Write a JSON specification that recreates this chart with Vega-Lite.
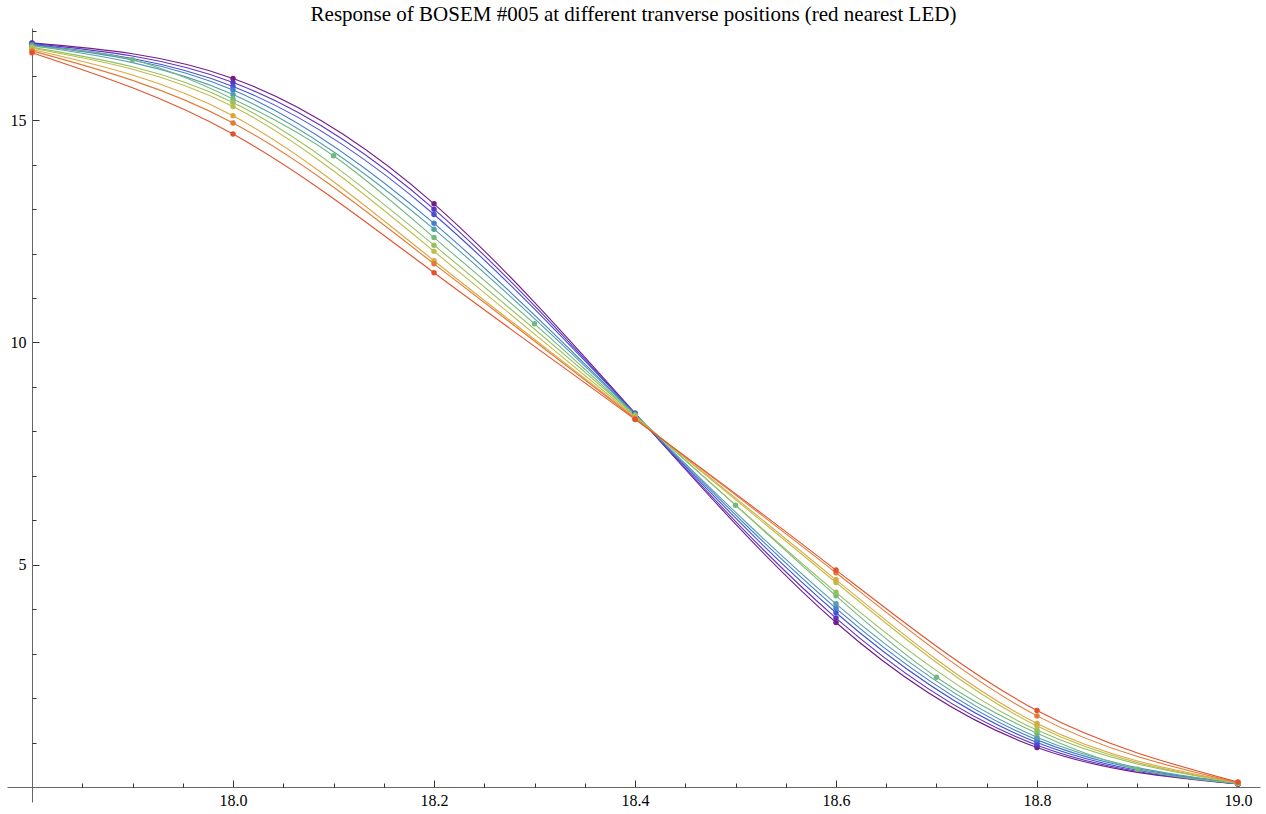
{
  "$schema": "https://vega.github.io/schema/vega-lite/v6.json",
  "autosize": {"type": "none"},
  "padding": {"left": 7, "top": 28, "right": 6, "bottom": 12},
  "width": 1253,
  "height": 774,
  "background": "white",
  "title": {"text": "Response of BOSEM #005 at different tranverse positions (red nearest LED)", "font": "Liberation Serif", "fontSize": 21, "fontWeight": "normal", "color": "black", "anchor": "middle", "frame": "group", "baseline": "bottom", "offset": 3, "dy": 21},
  "config": {
    "view": {"stroke": null},
    "axis": {"grid": false, "domainColor": "#666666", "tickColor": "#333333", "labelFont": "Liberation Serif", "labelFontSize": 16, "labelColor": "black", "title": null, "labelFlush": false, "labelOverlap": false}
  },
  "data": {"values": [
    {"s":10,"x":17.8,"v":16.74},{"s":10,"x":18.0,"v":15.94},{"s":10,"x":18.2,"v":13.12},{"s":10,"x":18.4,"v":8.41},{"s":10,"x":18.6,"v":3.70},{"s":10,"x":18.8,"v":0.89},{"s":10,"x":19.0,"v":0.07},
    {"s":9,"x":17.8,"v":16.73},{"s":9,"x":18.0,"v":15.85},{"s":9,"x":18.2,"v":13.00},{"s":9,"x":18.4,"v":8.40},{"s":9,"x":18.6,"v":3.80},{"s":9,"x":18.8,"v":0.94},{"s":9,"x":19.0,"v":0.07},
    {"s":8,"x":17.8,"v":16.71},{"s":8,"x":18.0,"v":15.76},{"s":8,"x":18.2,"v":12.88},{"s":8,"x":18.4,"v":8.40},{"s":8,"x":18.6,"v":3.92},{"s":8,"x":18.8,"v":1.00},{"s":8,"x":19.0,"v":0.07},
    {"s":7,"x":17.8,"v":16.70},{"s":7,"x":18.0,"v":15.68},{"s":7,"x":18.2,"v":12.68},{"s":7,"x":18.4,"v":8.39},{"s":7,"x":18.6,"v":4.02},{"s":7,"x":18.8,"v":1.06},{"s":7,"x":19.0,"v":0.08},
    {"s":6,"x":17.8,"v":16.68},{"s":6,"x":18.0,"v":15.58},{"s":6,"x":18.2,"v":12.55},{"s":6,"x":18.4,"v":8.38},{"s":6,"x":18.6,"v":4.12},{"s":6,"x":18.8,"v":1.12},{"s":6,"x":19.0,"v":0.08},
    {"s":5,"x":17.8,"v":16.66},{"s":5,"x":17.9,"v":16.36},{"s":5,"x":18.0,"v":15.48},{"s":5,"x":18.1,"v":14.20},{"s":5,"x":18.2,"v":12.36},{"s":5,"x":18.3,"v":10.42},{"s":5,"x":18.4,"v":8.37},{"s":5,"x":18.5,"v":6.34},{"s":5,"x":18.6,"v":4.30},{"s":5,"x":18.7,"v":2.47},{"s":5,"x":18.8,"v":1.21},{"s":5,"x":18.9,"v":0.40},{"s":5,"x":19.0,"v":0.08},
    {"s":4,"x":17.8,"v":16.64},{"s":4,"x":18.0,"v":15.40},{"s":4,"x":18.2,"v":12.19},{"s":4,"x":18.4,"v":8.35},{"s":4,"x":18.6,"v":4.38},{"s":4,"x":18.8,"v":1.28},{"s":4,"x":19.0,"v":0.09},
    {"s":3,"x":17.8,"v":16.62},{"s":3,"x":18.0,"v":15.31},{"s":3,"x":18.2,"v":12.05},{"s":3,"x":18.4,"v":8.33},{"s":3,"x":18.6,"v":4.60},{"s":3,"x":18.8,"v":1.37},{"s":3,"x":19.0,"v":0.09},
    {"s":2,"x":17.8,"v":16.59},{"s":2,"x":18.0,"v":15.10},{"s":2,"x":18.2,"v":11.84},{"s":2,"x":18.4,"v":8.31},{"s":2,"x":18.6,"v":4.66},{"s":2,"x":18.8,"v":1.43},{"s":2,"x":19.0,"v":0.10},
    {"s":1,"x":17.8,"v":16.56},{"s":1,"x":18.0,"v":14.94},{"s":1,"x":18.2,"v":11.77},{"s":1,"x":18.4,"v":8.29},{"s":1,"x":18.6,"v":4.82},{"s":1,"x":18.8,"v":1.60},{"s":1,"x":19.0,"v":0.10},
    {"s":0,"x":17.8,"v":16.52},{"s":0,"x":18.0,"v":14.69},{"s":0,"x":18.2,"v":11.57},{"s":0,"x":18.4,"v":8.27},{"s":0,"x":18.6,"v":4.88},{"s":0,"x":18.8,"v":1.72},{"s":0,"x":19.0,"v":0.11}
  ]},
  "layer": [
    {
      "mark": {"type": "line", "interpolate": "natural", "strokeWidth": 1.1},
      "encoding": {
        "x": {"field": "x", "type": "quantitative", "scale": {"domain": [17.7751, 19.0219], "nice": false, "zero": false},
              "axis": {"orient": "bottom", "offset": -15, "values": [18.0, 18.2, 18.4, 18.6, 18.8, 19.0], "format": ".1f", "tickSize": -7, "labelPadding": 12}},
        "y": {"field": "v", "type": "quantitative", "scale": {"domain": [-0.3375, 17.075], "nice": false, "zero": false},
              "axis": {"orient": "left", "offset": -25, "values": [5, 10, 15], "tickSize": -7, "labelPadding": 13}},
        "color": {"field": "s", "type": "nominal", "scale": {"domain": [0,1,2,3,4,5,6,7,8,9,10], "range": ["#E2522E","#E37A36","#DBA840","#BDBD4D","#94C160","#73B87F","#57A0A8","#4280CE","#4550D4","#5A36C0","#781B86"]}, "legend": null}
      }
    },
    {
      "mark": {"type": "circle", "size": 30, "opacity": 1},
      "encoding": {
        "x": {"field": "x", "type": "quantitative", "axis": null},
        "y": {"field": "v", "type": "quantitative", "axis": null},
        "color": {"field": "s", "type": "nominal", "legend": null}
      }
    },
    {
      "mark": {"type": "point", "opacity": 0},
      "encoding": {
        "x": {"field": "x", "type": "quantitative",
              "axis": {"orient": "bottom", "offset": -15, "values": [17.85, 17.9, 17.95, 18.05, 18.1, 18.15, 18.25, 18.3, 18.35, 18.45, 18.5, 18.55, 18.65, 18.7, 18.75, 18.85, 18.9, 18.95], "labels": false, "domain": false, "tickSize": -4}},
        "y": {"field": "v", "type": "quantitative",
              "axis": {"orient": "left", "offset": -25, "values": [1,2,3,4,6,7,8,9,11,12,13,14,16,17], "labels": false, "domain": false, "tickSize": -4}}
      }
    }
  ],
  "resolve": {"axis": {"x": "independent", "y": "independent"}}
}
